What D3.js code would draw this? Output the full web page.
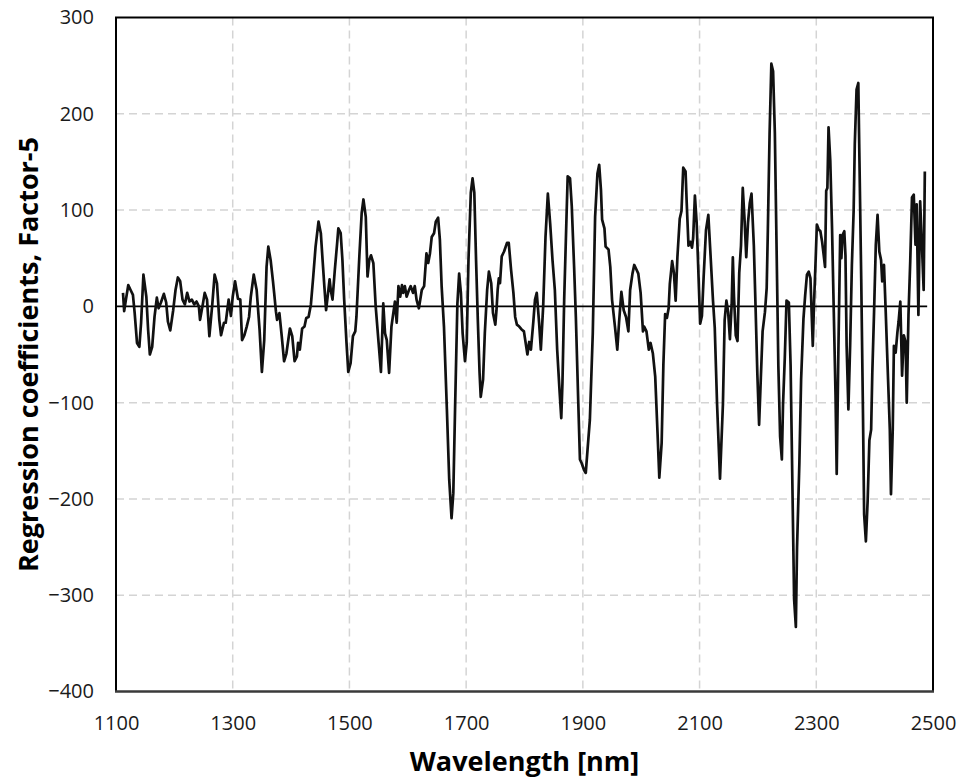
<!DOCTYPE html>
<html>
<head>
<meta charset="utf-8">
<script src="https://cdn.jsdelivr.net/npm/d3@7"></script>
<style>
  body { margin: 0; background: #fff; }
  svg { display: block; }
  .tick-label { font-family: "Open Sans", sans-serif; font-size: 20px; fill: #1a1a1a; }
  .axis-title { font-family: "Open Sans", sans-serif; font-size: 27px; font-weight: bold; fill: #000; }
</style>
</head>
<body>
<svg width="960" height="782"></svg>
<script>
var svg = d3.select('svg');

// wavelength (nm) at the turning points
var wavelengths = [
  1112, 1114, 1117, 1121, 1125, 1129, 1132, 1136, 1140, 1143, 1147, 1152, 1155, 1158, 1162, 1166,
  1170, 1173, 1177, 1182, 1186, 1189, 1193, 1198, 1202, 1206, 1210, 1214, 1218, 1222, 1226, 1230,
  1234, 1238, 1242, 1244, 1249, 1252, 1256, 1260, 1265, 1269, 1273, 1277, 1280, 1285, 1288, 1293,
  1297, 1300, 1304, 1309, 1313, 1316, 1320, 1324, 1328, 1331, 1336, 1341, 1346, 1350, 1354, 1358,
  1361, 1365, 1369, 1371, 1374, 1376, 1380, 1384, 1388, 1392, 1398, 1402, 1406, 1410, 1412, 1415,
  1419, 1423, 1426, 1430, 1434, 1438, 1442, 1447, 1451, 1454, 1457, 1460, 1463, 1466, 1468, 1471,
  1475, 1479, 1481, 1485, 1488, 1491, 1495, 1498, 1502, 1506, 1510, 1512, 1517, 1521, 1524, 1528,
  1531, 1534, 1537, 1541, 1545, 1550, 1554, 1558, 1561, 1564, 1568, 1572, 1578, 1581, 1584, 1587,
  1590, 1592, 1595, 1598, 1602, 1605, 1609, 1612, 1615, 1619, 1624, 1628, 1632, 1635, 1638, 1641,
  1645, 1648, 1652, 1655, 1658, 1662, 1667, 1671, 1675, 1678, 1681, 1685, 1688, 1691, 1694, 1698,
  1701, 1704, 1708, 1711, 1714, 1717, 1720, 1723, 1725, 1729, 1732, 1736, 1739, 1743, 1746, 1750,
  1752, 1754, 1756, 1758, 1761, 1765, 1770, 1773, 1777, 1781, 1784, 1787, 1791, 1795, 1799, 1805,
  1808, 1811, 1815, 1818, 1821, 1825, 1828, 1832, 1836, 1840, 1844, 1848, 1852, 1856, 1860, 1863,
  1865, 1868, 1872, 1874, 1878, 1881, 1885, 1888, 1892, 1895, 1898, 1902, 1905, 1908, 1912, 1917,
  1921, 1925, 1928, 1931, 1933, 1937, 1939, 1944, 1947, 1950, 1955, 1959, 1962, 1966, 1970, 1974,
  1978, 1981, 1985, 1988, 1992, 1995, 1999, 2003, 2005, 2009, 2013, 2016, 2020, 2024, 2028, 2031,
  2035, 2038, 2041, 2044, 2047, 2049, 2053, 2056, 2059, 2062, 2066, 2069, 2072, 2076, 2078, 2081,
  2084, 2087, 2089, 2092, 2095, 2098, 2101, 2104, 2107, 2111, 2115, 2119, 2123, 2126, 2130, 2135,
  2140, 2143, 2146, 2149, 2152, 2155, 2157, 2159, 2162, 2165, 2168, 2171, 2174, 2177, 2180, 2183,
  2186, 2189, 2193, 2196, 2199, 2202, 2205, 2208, 2212, 2215, 2217, 2220, 2223, 2226, 2229, 2232,
  2235, 2238, 2241, 2243, 2246, 2249, 2253, 2256, 2259, 2262, 2265, 2267, 2271, 2274, 2278, 2281,
  2284, 2287, 2290, 2291, 2294, 2296, 2299, 2301, 2304, 2307, 2310, 2312, 2315, 2317, 2319, 2321,
  2324, 2327, 2330, 2333, 2335, 2338, 2341, 2343, 2345, 2348, 2350, 2352, 2355, 2358, 2361, 2364,
  2366, 2369, 2372, 2374, 2377, 2380, 2382, 2385, 2388, 2391, 2394, 2396, 2399, 2402, 2405, 2408,
  2411, 2413, 2416, 2419, 2423, 2426, 2428, 2431, 2433, 2436, 2439, 2441, 2444, 2447, 2450, 2453,
  2455, 2458, 2461, 2464, 2467, 2470, 2472, 2475, 2478, 2481, 2484, 2486
];

// regression coefficient, Factor-5
var coefficients = [
  14, -5, 7, 22, 17, 12, -7, -38, -42, -17, 33, 10, -24, -50, -42, -11,
  9, -2, 4, 13, 4, -16, -25, -4, 17, 30, 26, 7, 2, 14, 5, 7,
  2, 5, 0, -14, 3, 14, 7, -31, 2, 33, 24, -14, -30, -17, -17, 7,
  -10, 10, 26, 8, 7, -35, -30, -21, -11, 10, 33, 17, -24, -68, -35, 41,
  62, 48, 26, 14, -5, -14, -7, -31, -57, -49, -23, -31, -57, -52, -38, -45,
  -23, -21, -12, -11, 2, 31, 62, 88, 76, 48, 21, -4, 12, 28, 17, 7,
  38, 66, 81, 76, 48, 7, -38, -68, -59, -31, -26, -11, 52, 97, 111, 93,
  31, 48, 53, 45, 0, -38, -68, 3, -28, -35, -69, -21, 5, -17, 21, 10,
  22, 14, 21, 10, 17, 21, 14, 21, 7, -2, 17, 21, 55, 45, 55, 72,
  76, 88, 92, 69, 21, -21, -107, -180, -220, -194, -107, 3, 34, 14, -28, -57,
  -38, 48, 118, 133, 118, 48, -14, -69, -94, -76, -28, 17, 36, 24, -7, -19,
  -4, 17, 29, 24, 52, 57, 66, 66, 38, 14, -11, -19, -21, -24, -26, -50,
  -37, -45, -17, 7, 14, -17, -45, 0, 72, 117, 86, 48, 17, -45, -87, -116,
  -80, 7, 93, 135, 133, 104, 41, -11, -97, -159, -163, -170, -173, -149, -118, -28,
  93, 138, 147, 121, 90, 81, 62, 59, 41, 7, -21, -45, -17, 15, -4, -11,
  -26, 17, 34, 43, 38, 34, 14, -26, -21, -26, -45, -38, -49, -73, -132, -178,
  -142, -60, -8, -12, -2, 23, 47, 35, 6, 51, 91, 99, 144, 140, 107, 63,
  67, 61, 71, 115, 87, 35, -18, -10, 31, 79, 95, 51, 6, -22, -102, -179,
  -102, -14, 6, -6, -34, 2, 51, 10, -30, -36, 35, 63, 123, 91, 51, 87,
  107, 117, 63, -2, -70, -123, -74, -26, -6, 19, 79, 180, 252, 244, 180, 59,
  -62, -135, -159, -102, -54, 6, 4, -62, -183, -304, -333, -251, -163, -76, -13, 12,
  33, 36, 29, 12, -41, 1, 50, 85, 80, 78, 67, 57, 41, 120, 123, 186,
  151, 81, -6, -93, -174, -41, 74, 50, 74, 78, 53, -41, -107, -41, 43, 99,
  169, 225, 232, 151, 29, -111, -216, -244, -202, -139, -128, -69, -6, 64, 95, 57,
  48, 26, 43, -6, -76, -128, -195, -128, -41, -48, -27, -16, 5, -72, -30, -37,
  -100, -9, 47, 113, 116, 64, 106, -9, 109, 64, 17, 140
];

var xTicks = [1100, 1300, 1500, 1700, 1900, 2100, 2300, 2500];
var yTicks = [-400, -300, -200, -100, 0, 100, 200, 300];
var xTitle = 'Wavelength [nm]';
var yTitle = 'Regression coefficients, Factor-5';

var plotLeft = 116, plotRight = 933, plotTop = 17.5, plotBottom = 691.5;

var xScale = d3.scaleLinear().domain([1100, 2500]).range([plotLeft, plotRight]);
var yScale = d3.scaleLinear().domain([-400, 300]).range([plotBottom, plotTop]);

// dashed grid
svg.selectAll('.vgrid')
  .data(xTicks.slice(1, -1))
  .enter()
  .append('line')
  .attr('x1', function(d) { return xScale(d); })
  .attr('x2', function(d) { return xScale(d); })
  .attr('y1', plotTop)
  .attr('y2', plotBottom)
  .style('stroke', '#d4d4d4')
  .style('stroke-width', 1.5)
  .style('stroke-dasharray', '8,5');

svg.selectAll('.hgrid')
  .data(yTicks.slice(1, -1).filter(function(d) { return d != 0; }))
  .enter()
  .append('line')
  .attr('x1', plotLeft)
  .attr('x2', plotRight)
  .attr('y1', function(d) { return yScale(d); })
  .attr('y2', function(d) { return yScale(d); })
  .style('stroke', '#d4d4d4')
  .style('stroke-width', 1.5)
  .style('stroke-dasharray', '8,5');

// zero line
svg.append('line')
  .attr('x1', plotLeft)
  .attr('x2', xScale(2490))
  .attr('y1', yScale(0))
  .attr('y2', yScale(0))
  .style('stroke', '#000')
  .style('stroke-width', 1.6);

// the series
var line = d3.line()
  .x(function(d, i) { return xScale(wavelengths[i]); })
  .y(function(d) { return yScale(d); });

svg.append('path')
  .datum(coefficients)
  .attr('d', line)
  .style('fill', 'none')
  .style('stroke', '#111')
  .style('stroke-width', 2.7)
  .style('stroke-linejoin', 'round');

// frame
svg.append('path')
  .attr('d', 'M' + plotLeft + ',' + plotBottom + 'V' + plotTop + 'H' + plotRight + 'V' + plotBottom)
  .style('fill', 'none')
  .style('stroke', '#000')
  .style('stroke-width', 2);
svg.append('line')
  .attr('x1', plotLeft - 1).attr('x2', plotRight + 1)
  .attr('y1', plotBottom).attr('y2', plotBottom)
  .style('stroke', '#3a3a3a')
  .style('stroke-width', 2.5);

// tick labels
var xAxis = d3.axisBottom(xScale).tickValues(xTicks).tickFormat(d3.format('d')).tickSize(0).tickPadding(0);
var gx = svg.append('g')
  .attr('transform', 'translate(0,' + 716 + ')')
  .call(xAxis);
gx.select('.domain').remove();
gx.selectAll('text').attr('class', 'tick-label');

var yAxis = d3.axisLeft(yScale).tickValues(yTicks).tickFormat(d3.format('d')).tickSize(0).tickPadding(0);
var gy = svg.append('g')
  .attr('transform', 'translate(' + 94 + ',0)')
  .call(yAxis);
gy.select('.domain').remove();
gy.selectAll('text').attr('class', 'tick-label');

// axis titles
svg.append('text')
  .attr('class', 'axis-title')
  .attr('x', (plotLeft + plotRight) / 2)
  .attr('y', 771)
  .attr('text-anchor', 'middle')
  .text(xTitle);

svg.append('text')
  .attr('class', 'axis-title')
  .attr('transform', 'translate(38,' + (plotTop + plotBottom) / 2 + ') rotate(-90)')
  .attr('text-anchor', 'middle')
  .text(yTitle);
</script>
</body>
</html>
